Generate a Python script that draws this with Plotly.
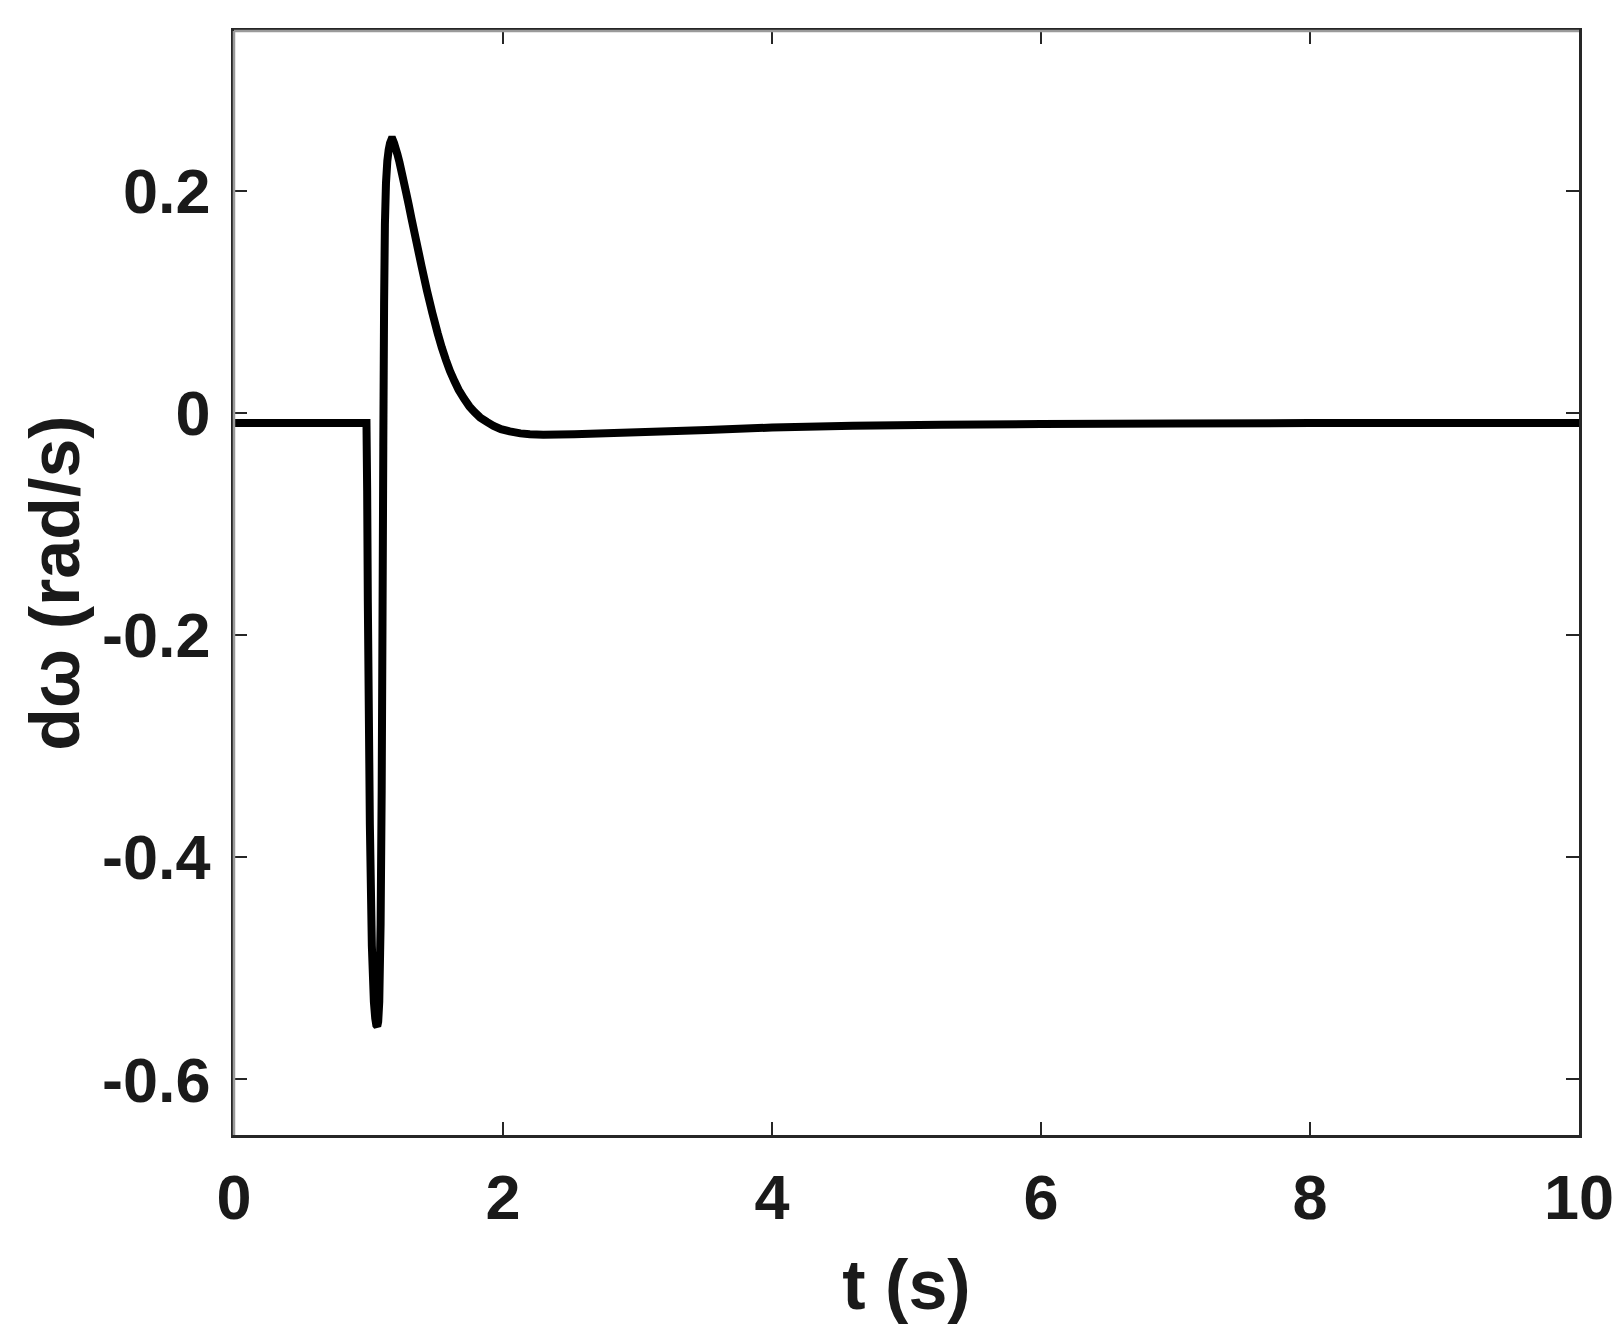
import plotly.graph_objects as go

# Time (s) and speed deviation (rad/s)
t = [0.0, 0.985, 0.99, 0.995, 1.01, 1.025, 1.04, 1.05, 1.058, 1.065, 1.072, 1.08,
     1.09, 1.098, 1.104, 1.11, 1.116, 1.122, 1.13, 1.14, 1.15, 1.16, 1.17, 1.18,
     1.19, 1.2, 1.215, 1.23, 1.25, 1.279, 1.3, 1.32, 1.353, 1.395, 1.435, 1.475,
     1.514, 1.545, 1.575, 1.605, 1.638, 1.67, 1.71, 1.75, 1.787, 1.83, 1.88, 1.93,
     1.985, 2.05, 2.13, 2.2, 2.3, 2.53, 3.0, 3.52, 4.0, 4.6, 5.26, 6.0, 7.0, 8.0,
     9.0, 10.0]
dw = [-0.009, -0.009, -0.07, -0.17, -0.37, -0.48, -0.53, -0.545, -0.551, -0.552,
      -0.548, -0.53, -0.46, -0.34, -0.19, -0.03, 0.1, 0.17, 0.207, 0.227, 0.237,
      0.243, 0.246, 0.246, 0.243, 0.239, 0.233, 0.226, 0.215, 0.199, 0.187, 0.175,
      0.156, 0.132, 0.110, 0.090, 0.072, 0.059, 0.048, 0.038, 0.029, 0.021, 0.013,
      0.006, 0.001, -0.004, -0.008, -0.0115, -0.0145, -0.0165, -0.0183, -0.019,
      -0.0195, -0.019, -0.0172, -0.0153, -0.013, -0.0115, -0.0105, -0.0098,
      -0.0093, -0.009, -0.009, -0.009]

x_ticks = [0, 2, 4, 6, 8, 10]
y_ticks = [-0.6, -0.4, -0.2, 0, 0.2]
y_tick_labels = ["-0.6", "-0.4", "-0.2", "0", "0.2"]

FONT = "Liberation Sans, Arial, sans-serif"
DARK = "#262626"

fig = go.Figure()
fig.add_trace(go.Scatter(x=t, y=dw, mode="lines",
                         line=dict(color="black", width=8, simplify=False),
                         showlegend=False, hoverinfo="skip"))

fig.update_layout(
    width=1616, height=1332,
    margin=dict(l=226, r=45, t=23, b=205),
    paper_bgcolor="white", plot_bgcolor="white",
    font=dict(family=FONT, color=DARK),
    xaxis=dict(
        range=[0, 10], tickvals=x_ticks, ticktext=[str(v) for v in x_ticks],
        showgrid=False, zeroline=False,
        showline=True, linecolor=DARK, linewidth=2.5, mirror="ticks",
        ticks="inside", ticklen=13, tickwidth=2, tickcolor=DARK,
        tickfont=dict(family=FONT, size=63, color="#1a1a1a", weight="bold"),
        ticklabelstandoff=6,
        title=dict(text="<b>t (s)</b>", font=dict(family=FONT, size=70, color="#1a1a1a"),
                   standoff=29),
        automargin=False,
    ),
    yaxis=dict(
        range=[-0.65, 0.344], tickvals=y_ticks, ticktext=y_tick_labels,
        showgrid=False, zeroline=False,
        showline=True, linecolor=DARK, linewidth=2.5, mirror="ticks",
        ticks="inside", ticklen=13, tickwidth=2, tickcolor=DARK,
        tickfont=dict(family=FONT, size=63, color="#1a1a1a", weight="bold"),
        ticklabelstandoff=8,
        title=dict(text="<b>dω (rad/s)</b>", font=dict(family=FONT, size=70, color="#1a1a1a"),
                   standoff=0),
        automargin=False,
    ),
    shapes=[
        dict(type="line", xref="paper", yref="paper", x0=0, x1=1, y0=1, y1=1,
             line=dict(color="#9a9a9a", width=2.5), layer="above"),
        dict(type="line", xref="paper", yref="paper", x0=0, x1=0, y0=0, y1=1,
             line=dict(color="#9a9a9a", width=2.5), layer="above"),
    ],
)

fig.write_html("out.html")
